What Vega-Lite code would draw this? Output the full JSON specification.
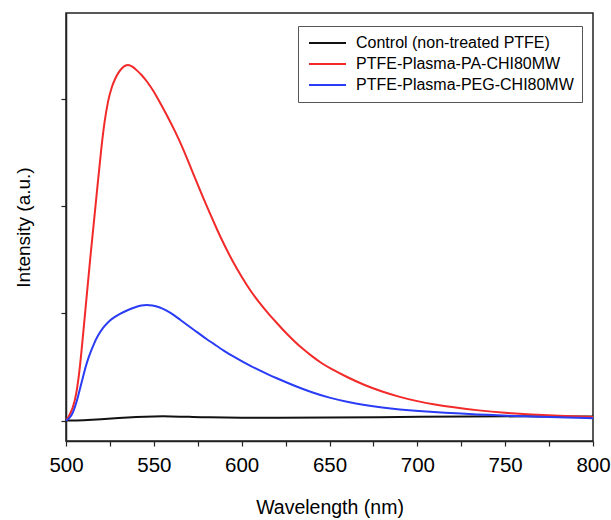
{
  "$schema": "https://vega.github.io/schema/vega-lite/v6.json",
  "width": 527,
  "height": 428,
  "autosize": "none",
  "padding": {"left": 66, "top": 13, "right": 18, "bottom": 79},
  "background": "white",
  "config": {
    "font": "Liberation Sans",
    "view": {"stroke": "#222", "strokeWidth": 1.5},
    "axis": {"domainColor": "#222", "tickColor": "#222", "domainWidth": 1.5, "tickWidth": 1.2, "grid": false, "labelColor": "#000", "titleColor": "#000", "titleFontWeight": "normal"}
  },
  "datasets": {
    "spectra": [
      {"w": 500, "v": 0, "s": "Control (non-treated PTFE)"},
      {"w": 510, "v": 0.003, "s": "Control (non-treated PTFE)"},
      {"w": 520, "v": 0.012, "s": "Control (non-treated PTFE)"},
      {"w": 530, "v": 0.025, "s": "Control (non-treated PTFE)"},
      {"w": 540, "v": 0.035, "s": "Control (non-treated PTFE)"},
      {"w": 550, "v": 0.04, "s": "Control (non-treated PTFE)"},
      {"w": 560, "v": 0.04, "s": "Control (non-treated PTFE)"},
      {"w": 570, "v": 0.036, "s": "Control (non-treated PTFE)"},
      {"w": 580, "v": 0.03, "s": "Control (non-treated PTFE)"},
      {"w": 600, "v": 0.026, "s": "Control (non-treated PTFE)"},
      {"w": 620, "v": 0.026, "s": "Control (non-treated PTFE)"},
      {"w": 650, "v": 0.028, "s": "Control (non-treated PTFE)"},
      {"w": 680, "v": 0.032, "s": "Control (non-treated PTFE)"},
      {"w": 700, "v": 0.036, "s": "Control (non-treated PTFE)"},
      {"w": 730, "v": 0.04, "s": "Control (non-treated PTFE)"},
      {"w": 760, "v": 0.04, "s": "Control (non-treated PTFE)"},
      {"w": 800, "v": 0.038, "s": "Control (non-treated PTFE)"},

      {"w": 500, "v": 0, "s": "PTFE-Plasma-PA-CHI80MW"},
      {"w": 502, "v": 0.05, "s": "PTFE-Plasma-PA-CHI80MW"},
      {"w": 504, "v": 0.12, "s": "PTFE-Plasma-PA-CHI80MW"},
      {"w": 506, "v": 0.25, "s": "PTFE-Plasma-PA-CHI80MW"},
      {"w": 508, "v": 0.5, "s": "PTFE-Plasma-PA-CHI80MW"},
      {"w": 510, "v": 0.85, "s": "PTFE-Plasma-PA-CHI80MW"},
      {"w": 512, "v": 1.2, "s": "PTFE-Plasma-PA-CHI80MW"},
      {"w": 514, "v": 1.55, "s": "PTFE-Plasma-PA-CHI80MW"},
      {"w": 516, "v": 1.87, "s": "PTFE-Plasma-PA-CHI80MW"},
      {"w": 518, "v": 2.2, "s": "PTFE-Plasma-PA-CHI80MW"},
      {"w": 520, "v": 2.53, "s": "PTFE-Plasma-PA-CHI80MW"},
      {"w": 522, "v": 2.8, "s": "PTFE-Plasma-PA-CHI80MW"},
      {"w": 524, "v": 2.99, "s": "PTFE-Plasma-PA-CHI80MW"},
      {"w": 526, "v": 3.11, "s": "PTFE-Plasma-PA-CHI80MW"},
      {"w": 528, "v": 3.19, "s": "PTFE-Plasma-PA-CHI80MW"},
      {"w": 530, "v": 3.25, "s": "PTFE-Plasma-PA-CHI80MW"},
      {"w": 532, "v": 3.29, "s": "PTFE-Plasma-PA-CHI80MW"},
      {"w": 534, "v": 3.315, "s": "PTFE-Plasma-PA-CHI80MW"},
      {"w": 536, "v": 3.315, "s": "PTFE-Plasma-PA-CHI80MW"},
      {"w": 538, "v": 3.3, "s": "PTFE-Plasma-PA-CHI80MW"},
      {"w": 540, "v": 3.27, "s": "PTFE-Plasma-PA-CHI80MW"},
      {"w": 543, "v": 3.225, "s": "PTFE-Plasma-PA-CHI80MW"},
      {"w": 546, "v": 3.165, "s": "PTFE-Plasma-PA-CHI80MW"},
      {"w": 550, "v": 3.07, "s": "PTFE-Plasma-PA-CHI80MW"},
      {"w": 554, "v": 2.95, "s": "PTFE-Plasma-PA-CHI80MW"},
      {"w": 558, "v": 2.83, "s": "PTFE-Plasma-PA-CHI80MW"},
      {"w": 562, "v": 2.7, "s": "PTFE-Plasma-PA-CHI80MW"},
      {"w": 566, "v": 2.56, "s": "PTFE-Plasma-PA-CHI80MW"},
      {"w": 570, "v": 2.4, "s": "PTFE-Plasma-PA-CHI80MW"},
      {"w": 574, "v": 2.24, "s": "PTFE-Plasma-PA-CHI80MW"},
      {"w": 578, "v": 2.08, "s": "PTFE-Plasma-PA-CHI80MW"},
      {"w": 582, "v": 1.93, "s": "PTFE-Plasma-PA-CHI80MW"},
      {"w": 586, "v": 1.78, "s": "PTFE-Plasma-PA-CHI80MW"},
      {"w": 590, "v": 1.64, "s": "PTFE-Plasma-PA-CHI80MW"},
      {"w": 595, "v": 1.48, "s": "PTFE-Plasma-PA-CHI80MW"},
      {"w": 600, "v": 1.34, "s": "PTFE-Plasma-PA-CHI80MW"},
      {"w": 605, "v": 1.21, "s": "PTFE-Plasma-PA-CHI80MW"},
      {"w": 610, "v": 1.1, "s": "PTFE-Plasma-PA-CHI80MW"},
      {"w": 615, "v": 1.0, "s": "PTFE-Plasma-PA-CHI80MW"},
      {"w": 620, "v": 0.91, "s": "PTFE-Plasma-PA-CHI80MW"},
      {"w": 625, "v": 0.82, "s": "PTFE-Plasma-PA-CHI80MW"},
      {"w": 630, "v": 0.74, "s": "PTFE-Plasma-PA-CHI80MW"},
      {"w": 635, "v": 0.665, "s": "PTFE-Plasma-PA-CHI80MW"},
      {"w": 640, "v": 0.6, "s": "PTFE-Plasma-PA-CHI80MW"},
      {"w": 645, "v": 0.54, "s": "PTFE-Plasma-PA-CHI80MW"},
      {"w": 650, "v": 0.49, "s": "PTFE-Plasma-PA-CHI80MW"},
      {"w": 660, "v": 0.405, "s": "PTFE-Plasma-PA-CHI80MW"},
      {"w": 670, "v": 0.33, "s": "PTFE-Plasma-PA-CHI80MW"},
      {"w": 680, "v": 0.27, "s": "PTFE-Plasma-PA-CHI80MW"},
      {"w": 690, "v": 0.22, "s": "PTFE-Plasma-PA-CHI80MW"},
      {"w": 700, "v": 0.18, "s": "PTFE-Plasma-PA-CHI80MW"},
      {"w": 710, "v": 0.15, "s": "PTFE-Plasma-PA-CHI80MW"},
      {"w": 720, "v": 0.125, "s": "PTFE-Plasma-PA-CHI80MW"},
      {"w": 735, "v": 0.094, "s": "PTFE-Plasma-PA-CHI80MW"},
      {"w": 750, "v": 0.072, "s": "PTFE-Plasma-PA-CHI80MW"},
      {"w": 765, "v": 0.057, "s": "PTFE-Plasma-PA-CHI80MW"},
      {"w": 780, "v": 0.046, "s": "PTFE-Plasma-PA-CHI80MW"},
      {"w": 800, "v": 0.034, "s": "PTFE-Plasma-PA-CHI80MW"},

      {"w": 500, "v": 0, "s": "PTFE-Plasma-PEG-CHI80MW"},
      {"w": 502, "v": 0.02, "s": "PTFE-Plasma-PEG-CHI80MW"},
      {"w": 504, "v": 0.07, "s": "PTFE-Plasma-PEG-CHI80MW"},
      {"w": 506, "v": 0.17, "s": "PTFE-Plasma-PEG-CHI80MW"},
      {"w": 508, "v": 0.3, "s": "PTFE-Plasma-PEG-CHI80MW"},
      {"w": 510, "v": 0.43, "s": "PTFE-Plasma-PEG-CHI80MW"},
      {"w": 512, "v": 0.55, "s": "PTFE-Plasma-PEG-CHI80MW"},
      {"w": 514, "v": 0.64, "s": "PTFE-Plasma-PEG-CHI80MW"},
      {"w": 516, "v": 0.72, "s": "PTFE-Plasma-PEG-CHI80MW"},
      {"w": 518, "v": 0.79, "s": "PTFE-Plasma-PEG-CHI80MW"},
      {"w": 521, "v": 0.865, "s": "PTFE-Plasma-PEG-CHI80MW"},
      {"w": 524, "v": 0.92, "s": "PTFE-Plasma-PEG-CHI80MW"},
      {"w": 527, "v": 0.96, "s": "PTFE-Plasma-PEG-CHI80MW"},
      {"w": 531, "v": 1.0, "s": "PTFE-Plasma-PEG-CHI80MW"},
      {"w": 535, "v": 1.03, "s": "PTFE-Plasma-PEG-CHI80MW"},
      {"w": 539, "v": 1.055, "s": "PTFE-Plasma-PEG-CHI80MW"},
      {"w": 543, "v": 1.075, "s": "PTFE-Plasma-PEG-CHI80MW"},
      {"w": 546, "v": 1.08, "s": "PTFE-Plasma-PEG-CHI80MW"},
      {"w": 549, "v": 1.075, "s": "PTFE-Plasma-PEG-CHI80MW"},
      {"w": 553, "v": 1.06, "s": "PTFE-Plasma-PEG-CHI80MW"},
      {"w": 557, "v": 1.03, "s": "PTFE-Plasma-PEG-CHI80MW"},
      {"w": 561, "v": 0.99, "s": "PTFE-Plasma-PEG-CHI80MW"},
      {"w": 565, "v": 0.94, "s": "PTFE-Plasma-PEG-CHI80MW"},
      {"w": 570, "v": 0.88, "s": "PTFE-Plasma-PEG-CHI80MW"},
      {"w": 575, "v": 0.82, "s": "PTFE-Plasma-PEG-CHI80MW"},
      {"w": 580, "v": 0.76, "s": "PTFE-Plasma-PEG-CHI80MW"},
      {"w": 585, "v": 0.705, "s": "PTFE-Plasma-PEG-CHI80MW"},
      {"w": 590, "v": 0.65, "s": "PTFE-Plasma-PEG-CHI80MW"},
      {"w": 595, "v": 0.6, "s": "PTFE-Plasma-PEG-CHI80MW"},
      {"w": 600, "v": 0.555, "s": "PTFE-Plasma-PEG-CHI80MW"},
      {"w": 605, "v": 0.51, "s": "PTFE-Plasma-PEG-CHI80MW"},
      {"w": 610, "v": 0.47, "s": "PTFE-Plasma-PEG-CHI80MW"},
      {"w": 615, "v": 0.43, "s": "PTFE-Plasma-PEG-CHI80MW"},
      {"w": 620, "v": 0.395, "s": "PTFE-Plasma-PEG-CHI80MW"},
      {"w": 625, "v": 0.36, "s": "PTFE-Plasma-PEG-CHI80MW"},
      {"w": 630, "v": 0.325, "s": "PTFE-Plasma-PEG-CHI80MW"},
      {"w": 640, "v": 0.262, "s": "PTFE-Plasma-PEG-CHI80MW"},
      {"w": 650, "v": 0.212, "s": "PTFE-Plasma-PEG-CHI80MW"},
      {"w": 660, "v": 0.175, "s": "PTFE-Plasma-PEG-CHI80MW"},
      {"w": 670, "v": 0.145, "s": "PTFE-Plasma-PEG-CHI80MW"},
      {"w": 680, "v": 0.122, "s": "PTFE-Plasma-PEG-CHI80MW"},
      {"w": 690, "v": 0.104, "s": "PTFE-Plasma-PEG-CHI80MW"},
      {"w": 700, "v": 0.09, "s": "PTFE-Plasma-PEG-CHI80MW"},
      {"w": 715, "v": 0.074, "s": "PTFE-Plasma-PEG-CHI80MW"},
      {"w": 735, "v": 0.057, "s": "PTFE-Plasma-PEG-CHI80MW"},
      {"w": 750, "v": 0.047, "s": "PTFE-Plasma-PEG-CHI80MW"},
      {"w": 775, "v": 0.034, "s": "PTFE-Plasma-PEG-CHI80MW"},
      {"w": 800, "v": 0.022, "s": "PTFE-Plasma-PEG-CHI80MW"}
    ]
  },
  "data": {"name": "spectra"},
  "mark": {"type": "line", "strokeWidth": 2, "interpolate": "basis", "clip": true},
  "encoding": {
    "x": {
      "field": "w", "type": "quantitative",
      "scale": {"domain": [500, 800], "nice": false, "zero": false},
      "axis": {
        "title": "Wavelength (nm)", "titleFontSize": 19.5, "titlePadding": 23,
        "values": [500, 525, 550, 575, 600, 625, 650, 675, 700, 725, 750, 775, 800],
        "labelExpr": "datum.value % 50 === 0 ? datum.label : ''",
        "labelFontSize": 20.5, "labelPadding": 9, "tickSize": 5, "labelFlush": false
      }
    },
    "y": {
      "field": "v", "type": "quantitative",
      "scale": {"domain": [-0.19, 3.8], "nice": false, "zero": false},
      "axis": {
        "title": "Intensity (a.u.)", "titleFontSize": 19, "titlePadding": 27,
        "values": [0, 1, 2, 3], "labels": false, "tickSize": 5
      }
    },
    "color": {
      "field": "s", "type": "nominal", "sort": null,
      "scale": {
        "domain": ["Control (non-treated PTFE)", "PTFE-Plasma-PA-CHI80MW", "PTFE-Plasma-PEG-CHI80MW"],
        "range": ["#111111", "#f22a2a", "#2a3cf5"]
      },
      "legend": {
        "title": null, "orient": "none", "legendX": 232, "legendY": 13,
        "direction": "vertical",
        "strokeColor": "#555", "fillColor": "white", "padding": 8,
        "symbolType": "stroke", "symbolSize": 1369, "symbolStrokeWidth": 2, "symbolOffset": 2,
        "clipHeight": 18, "rowPadding": 3,
        "labelFontSize": 16, "labelLimit": 400, "labelColor": "#000", "labelOffset": 9
      }
    }
  }
}
